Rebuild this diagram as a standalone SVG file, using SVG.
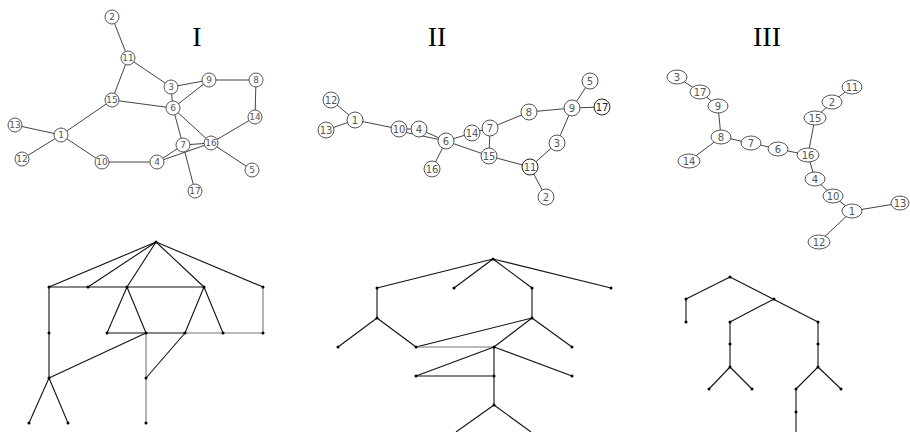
<svg xmlns="http://www.w3.org/2000/svg" width="910" height="432" viewBox="0 0 910 432">
<style>
.e{stroke:#444;stroke-width:1;fill:none}
.t{stroke:#111;stroke-width:1.1;fill:none}
.g{stroke:#777}
.n circle,.n ellipse{fill:#fff;stroke:#555;stroke-width:1}
.n text{fill:#555;font-family:"DejaVu Sans",sans-serif;font-size:9px;text-anchor:middle;dominant-baseline:central}
.m text{font-size:10px}
.b text{font-size:10px}
.ti{font-family:"Liberation Serif",serif;font-size:28px;fill:#000;text-anchor:middle}
.d{fill:#000}
</style>
<rect width="910" height="432" fill="#fff"/>
<text class="ti" x="197" y="46">I</text>
<text class="ti" x="437" y="46">II</text>
<text class="ti" x="767" y="46">III</text>
<g id="connectors">
<g class="e">
<line x1="112" y1="17" x2="128" y2="58"/>
<line x1="128" y1="58" x2="171" y2="87"/>
<line x1="128" y1="58" x2="112" y2="100"/>
<line x1="171" y1="87" x2="209" y2="80"/>
<line x1="171" y1="87" x2="173" y2="108"/>
<line x1="209" y1="80" x2="173" y2="108"/>
<line x1="209" y1="80" x2="256" y2="80"/>
<line x1="256" y1="80" x2="255" y2="117"/>
<line x1="255" y1="117" x2="211" y2="143"/>
<line x1="112" y1="100" x2="173" y2="108"/>
<line x1="112" y1="100" x2="61" y2="135"/>
<line x1="173" y1="108" x2="183" y2="145"/>
<line x1="173" y1="108" x2="211" y2="143"/>
<line x1="15" y1="125" x2="61" y2="135"/>
<line x1="22" y1="159" x2="61" y2="135"/>
<line x1="61" y1="135" x2="102" y2="162"/>
<line x1="102" y1="162" x2="157" y2="162"/>
<line x1="157" y1="162" x2="183" y2="145"/>
<line x1="157" y1="162" x2="211" y2="143"/>
<line x1="183" y1="145" x2="211" y2="143"/>
<line x1="183" y1="145" x2="195" y2="191"/>
<line x1="211" y1="143" x2="252" y2="170"/>
<line x1="331" y1="100" x2="355" y2="120"/>
<line x1="326" y1="130" x2="355" y2="120"/>
<line x1="355" y1="120" x2="399" y2="129"/>
<line x1="399" y1="129" x2="419" y2="129"/>
<line x1="399" y1="131" x2="446" y2="141"/>
<line x1="419" y1="129" x2="446" y2="141"/>
<line x1="446" y1="141" x2="472" y2="133"/>
<line x1="472" y1="133" x2="490" y2="128"/>
<line x1="490" y1="128" x2="489" y2="156"/>
<line x1="490" y1="128" x2="529" y2="112"/>
<line x1="529" y1="112" x2="572" y2="108"/>
<line x1="572" y1="108" x2="590" y2="81"/>
<line x1="572" y1="108" x2="602" y2="107"/>
<line x1="572" y1="108" x2="557" y2="143"/>
<line x1="557" y1="143" x2="530" y2="167"/>
<line x1="446" y1="141" x2="489" y2="156"/>
<line x1="489" y1="156" x2="530" y2="167"/>
<line x1="530" y1="167" x2="546" y2="197"/>
<line x1="446" y1="141" x2="432" y2="169"/>
<line x1="677" y1="77" x2="700" y2="92"/>
<line x1="700" y1="92" x2="718" y2="106"/>
<line x1="718" y1="106" x2="721" y2="137"/>
<line x1="721" y1="137" x2="689" y2="161"/>
<line x1="721" y1="137" x2="751" y2="143"/>
<line x1="751" y1="143" x2="778" y2="149"/>
<line x1="778" y1="149" x2="808" y2="155"/>
<line x1="808" y1="155" x2="815" y2="118"/>
<line x1="815" y1="118" x2="832" y2="102"/>
<line x1="832" y1="102" x2="852" y2="87"/>
<line x1="808" y1="155" x2="815" y2="179"/>
<line x1="815" y1="179" x2="833" y2="196"/>
<line x1="833" y1="196" x2="852" y2="211"/>
<line x1="852" y1="211" x2="901" y2="203"/>
<line x1="852" y1="211" x2="819" y2="242"/>
</g>
<g class="t">
<line x1="156" y1="242" x2="49" y2="287"/>
<line x1="156" y1="242" x2="88" y2="287"/>
<line x1="156" y1="242" x2="127" y2="287"/>
<line x1="156" y1="242" x2="204" y2="287"/>
<line x1="156" y1="242" x2="263" y2="287"/>
<line x1="49" y1="287" x2="204" y2="287"/>
<line x1="49" y1="287" x2="49" y2="378"/>
<line x1="127" y1="287" x2="107" y2="333"/>
<line x1="127" y1="287" x2="146" y2="333"/>
<line x1="204" y1="287" x2="185" y2="333"/>
<line x1="204" y1="287" x2="223" y2="333"/>
<line x1="107" y1="333" x2="185" y2="333"/>
<line class="g" x1="185" y1="333" x2="263" y2="333"/>
<line class="g" x1="263" y1="287" x2="263" y2="333"/>
<line x1="146" y1="333" x2="49" y2="378"/>
<line class="g" x1="146" y1="333" x2="146" y2="423"/>
<line x1="185" y1="333" x2="146" y2="378"/>
<line x1="49" y1="378" x2="29" y2="423"/>
<line x1="49" y1="378" x2="68" y2="423"/>
<line x1="493" y1="259" x2="377" y2="288"/>
<line x1="493" y1="259" x2="454" y2="288"/>
<line x1="493" y1="259" x2="532" y2="288"/>
<line x1="493" y1="259" x2="611" y2="288"/>
<line x1="377" y1="288" x2="377" y2="318"/>
<line x1="532" y1="288" x2="532" y2="318"/>
<line x1="377" y1="318" x2="338" y2="347"/>
<line x1="377" y1="318" x2="416" y2="347"/>
<line x1="532" y1="318" x2="494" y2="347"/>
<line x1="532" y1="318" x2="572" y2="347"/>
<line x1="416" y1="347" x2="532" y2="318"/>
<line class="g" x1="416" y1="347" x2="494" y2="347"/>
<line x1="494" y1="347" x2="494" y2="405"/>
<line x1="494" y1="347" x2="416" y2="376"/>
<line x1="494" y1="347" x2="572" y2="376"/>
<line x1="416" y1="376" x2="494" y2="376"/>
<line x1="494" y1="405" x2="456" y2="432"/>
<line x1="494" y1="405" x2="531" y2="432"/>
<line x1="730" y1="277" x2="686" y2="299"/>
<line x1="686" y1="299" x2="686" y2="322"/>
<line x1="730" y1="277" x2="818" y2="322"/>
<line x1="774" y1="299" x2="730" y2="322"/>
<line x1="730" y1="322" x2="730" y2="367"/>
<line x1="818" y1="322" x2="818" y2="367"/>
<line x1="730" y1="367" x2="709" y2="389"/>
<line x1="730" y1="367" x2="752" y2="389"/>
<line x1="818" y1="367" x2="796" y2="389"/>
<line x1="818" y1="367" x2="841" y2="389"/>
<line x1="796" y1="389" x2="796" y2="432"/>
</g>
</g>
<g id="graph-I" class="n">
<g id="I-2"><circle cx="112" cy="17" r="7"/><text x="112" y="17">2</text></g>
<g id="I-11"><circle cx="128" cy="58" r="7"/><text x="128" y="58">11</text></g>
<g id="I-3"><circle cx="171" cy="87" r="7"/><text x="171" y="87">3</text></g>
<g id="I-9"><circle cx="209" cy="80" r="7"/><text x="209" y="80">9</text></g>
<g id="I-8"><circle cx="256" cy="80" r="7"/><text x="256" y="80">8</text></g>
<g id="I-15"><circle cx="112" cy="100" r="7"/><text x="112" y="100">15</text></g>
<g id="I-6"><circle cx="173" cy="108" r="7"/><text x="173" y="108">6</text></g>
<g id="I-14"><circle cx="255" cy="117" r="7"/><text x="255" y="117">14</text></g>
<g id="I-13"><circle cx="15" cy="125" r="7"/><text x="15" y="125">13</text></g>
<g id="I-1"><circle cx="61" cy="135" r="7"/><text x="61" y="135">1</text></g>
<g id="I-7"><circle cx="183" cy="145" r="7"/><text x="183" y="145">7</text></g>
<g id="I-16"><circle cx="211" cy="143" r="7"/><text x="211" y="143">16</text></g>
<g id="I-12"><circle cx="22" cy="159" r="7"/><text x="22" y="159">12</text></g>
<g id="I-10"><circle cx="102" cy="162" r="7"/><text x="102" y="162">10</text></g>
<g id="I-4"><circle cx="157" cy="162" r="7"/><text x="157" y="162">4</text></g>
<g id="I-5"><circle cx="252" cy="170" r="7"/><text x="252" y="170">5</text></g>
<g id="I-17"><circle cx="195" cy="191" r="7"/><text x="195" y="191">17</text></g>
</g>
<g id="graph-II" class="n b">
<g id="II-12"><circle cx="331" cy="100" r="8"/><text x="331" y="100">12</text></g>
<g id="II-1"><circle cx="355" cy="120" r="8"/><text x="355" y="120">1</text></g>
<g id="II-13"><circle cx="326" cy="130" r="8"/><text x="326" y="130">13</text></g>
<g id="II-10"><circle cx="399" cy="129" r="8"/><text x="399" y="129">10</text></g>
<g id="II-4"><circle cx="419" cy="129" r="8"/><text x="419" y="129">4</text></g>
<g id="II-6"><circle cx="446" cy="141" r="8"/><text x="446" y="141">6</text></g>
<g id="II-14"><circle cx="472" cy="133" r="8"/><text x="472" y="133">14</text></g>
<g id="II-7"><circle cx="490" cy="128" r="8"/><text x="490" y="128">7</text></g>
<g id="II-8"><circle cx="529" cy="112" r="8"/><text x="529" y="112">8</text></g>
<g id="II-9"><circle cx="572" cy="108" r="8"/><text x="572" y="108">9</text></g>
<g id="II-5"><circle cx="590" cy="81" r="8"/><text x="590" y="81">5</text></g>
<g id="II-17"><circle cx="602" cy="107" r="8" style="stroke:#222"/><text x="602" y="107" style="fill:#222">17</text></g>
<g id="II-3"><circle cx="557" cy="143" r="8"/><text x="557" y="143">3</text></g>
<g id="II-15"><circle cx="489" cy="156" r="8"/><text x="489" y="156">15</text></g>
<g id="II-11"><circle cx="530" cy="167" r="8" style="stroke:#222"/><text x="530" y="167">11</text></g>
<g id="II-16"><circle cx="432" cy="169" r="8"/><text x="432" y="169">16</text></g>
<g id="II-2"><circle cx="546" cy="197" r="8"/><text x="546" y="197">2</text></g>
</g>
<g id="graph-III" class="n m">
<g id="III-3"><ellipse cx="677" cy="77" rx="10" ry="7"/><text x="677" y="77">3</text></g>
<g id="III-17"><ellipse cx="700" cy="92" rx="10" ry="7"/><text x="700" y="92">17</text></g>
<g id="III-9"><ellipse cx="718" cy="106" rx="10" ry="7"/><text x="718" y="106">9</text></g>
<g id="III-8"><ellipse cx="721" cy="137" rx="10" ry="7"/><text x="721" y="137">8</text></g>
<g id="III-14"><ellipse cx="689" cy="161" rx="11" ry="7"/><text x="689" y="161">14</text></g>
<g id="III-7"><ellipse cx="751" cy="143" rx="10" ry="7"/><text x="751" y="143">7</text></g>
<g id="III-6"><ellipse cx="778" cy="149" rx="10" ry="7"/><text x="778" y="149">6</text></g>
<g id="III-16"><ellipse cx="808" cy="155" rx="11" ry="7"/><text x="808" y="155">16</text></g>
<g id="III-15"><ellipse cx="815" cy="118" rx="11" ry="7"/><text x="815" y="118">15</text></g>
<g id="III-2"><ellipse cx="832" cy="102" rx="10" ry="7"/><text x="832" y="102">2</text></g>
<g id="III-11"><ellipse cx="852" cy="87" rx="10" ry="7"/><text x="852" y="87">11</text></g>
<g id="III-4"><ellipse cx="815" cy="179" rx="10" ry="7"/><text x="815" y="179">4</text></g>
<g id="III-10"><ellipse cx="833" cy="196" rx="10" ry="7"/><text x="833" y="196">10</text></g>
<g id="III-1"><ellipse cx="852" cy="211" rx="10" ry="7"/><text x="852" y="211">1</text></g>
<g id="III-13"><ellipse cx="900" cy="203" rx="9" ry="7"/><text x="900" y="203">13</text></g>
<g id="III-12"><ellipse cx="819" cy="242" rx="11" ry="7"/><text x="819" y="242">12</text></g>
</g>
<g id="dots" class="d">
<circle cx="156" cy="242" r="1.5"/><circle cx="49" cy="287" r="1.5"/><circle cx="88" cy="287" r="1.5"/><circle cx="127" cy="287" r="1.5"/><circle cx="204" cy="287" r="1.5"/><circle cx="263" cy="287" r="1.5"/>
<circle cx="49" cy="333" r="1.5"/><circle cx="107" cy="333" r="1.5"/><circle cx="146" cy="333" r="1.5"/><circle cx="185" cy="333" r="1.5"/><circle cx="223" cy="333" r="1.5"/><circle cx="263" cy="333" r="1.5"/>
<circle cx="49" cy="378" r="1.5"/><circle cx="146" cy="378" r="1.5"/><circle cx="29" cy="423" r="1.5"/><circle cx="68" cy="423" r="1.5"/><circle cx="146" cy="423" r="1.5"/>
<circle cx="493" cy="259" r="1.5"/><circle cx="377" cy="288" r="1.5"/><circle cx="454" cy="288" r="1.5"/><circle cx="532" cy="288" r="1.5"/><circle cx="611" cy="288" r="1.5"/>
<circle cx="377" cy="318" r="1.5"/><circle cx="532" cy="318" r="1.5"/><circle cx="338" cy="347" r="1.5"/><circle cx="416" cy="347" r="1.5"/><circle cx="494" cy="347" r="1.5"/><circle cx="572" cy="347" r="1.5"/>
<circle cx="416" cy="376" r="1.5"/><circle cx="494" cy="376" r="1.5"/><circle cx="572" cy="376" r="1.5"/><circle cx="494" cy="405" r="1.5"/>
<circle cx="730" cy="277" r="1.5"/><circle cx="686" cy="299" r="1.5"/><circle cx="686" cy="322" r="1.5"/><circle cx="774" cy="299" r="1.5"/><circle cx="730" cy="322" r="1.5"/><circle cx="818" cy="322" r="1.5"/>
<circle cx="730" cy="344" r="1.5"/><circle cx="818" cy="344" r="1.5"/><circle cx="730" cy="367" r="1.5"/><circle cx="818" cy="367" r="1.5"/>
<circle cx="709" cy="389" r="1.5"/><circle cx="752" cy="389" r="1.5"/><circle cx="796" cy="389" r="1.5"/><circle cx="841" cy="389" r="1.5"/><circle cx="796" cy="412" r="1.5"/>
</g>
</svg>
